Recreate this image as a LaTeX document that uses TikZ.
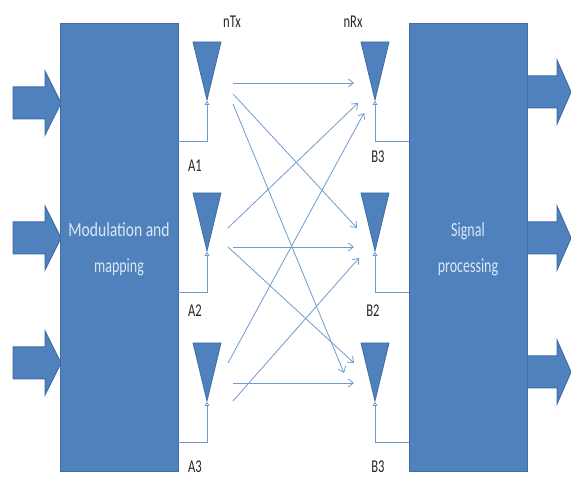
\documentclass[tikz,border=0pt]{standalone}
\usepackage{fontspec}
\setmainfont{Carlito}
\usetikzlibrary{arrows.meta}
\definecolor{fillb}{HTML}{4F81BD}
\definecolor{edgeb}{HTML}{3F6EA6}
\definecolor{linkb}{HTML}{6F9BD0}
\definecolor{txtb}{HTML}{DCE7F4}
\tikzset{
  x=1pt,y=-1pt,
  block/.style={draw=edgeb,fill=fillb,line width=1pt,minimum width=118pt,minimum height=447pt,inner sep=0pt},
  inner/.style={inner sep=0pt,text=txtb,font=\fontsize{20}{24}\selectfont},
  lab/.style={inner sep=0pt,font=\fontsize{18}{20}\selectfont,text=black!85},
  antenna/.style={draw=edgeb,fill=fillb,line width=.8pt,line join=miter},
  bigarrow/.style={draw=edgeb,fill=fillb,line width=1pt,line join=miter},
  feed/.style={draw=linkb,line width=.8pt,-{Triangle[open,length=4pt,width=5pt]}},
  link/.style={draw=linkb,line width=.8pt,-{Straight Barb[length=5pt,width=8pt]}}
}
\newcommand{\narrow}[1]{\scalebox{0.7}[1]{#1}}
\begin{document}
\begin{tikzpicture}
\useasboundingbox (0,0) rectangle (571,481);
\foreach \n/\yy in {i1/103,i2/238,i3/363}{
  \draw[bigarrow] (13,\yy-16) -- (45,\yy-16) -- (45,\yy-32) -- (61,\yy) -- (45,\yy+32) -- (45,\yy+16) -- (13,\yy+16) -- cycle;
}
\foreach \n/\yy in {o1/92,o2/238,o3/372}{
  \draw[bigarrow] (527,\yy-16) -- (557,\yy-16) -- (557,\yy-32) -- (571,\yy) -- (557,\yy+32) -- (557,\yy+16) -- (527,\yy+16) -- cycle;
}
\node[block] (mod) at (119,247.5) {};
\node[block] (sig) at (468,247.5) {};
\node[inner] (modt) at (119,230) {\scalebox{0.78}[1]{Modulation and}};
\node[inner] (mapt) at (119,267) {\narrow{mapping}};
\node[inner] (sigt) at (468,231) {\narrow{Signal}};
\node[inner] (prot) at (468,267) {\narrow{processing}};
\foreach \n/\xx/\yy in {ta/207/42,tb/207/193,tc/207/343,ra/375/42,rb/375/193,rc/375/343}{
  \draw[antenna] (\xx-14,\yy) -- (\xx+14,\yy) -- (\xx,\yy+58) -- cycle;
  \coordinate (\n) at (\xx,\yy+59);
}
\coordinate (ma) at (178,141);
\coordinate (mb) at (178,292);
\coordinate (mc) at (178,442);
\coordinate (sa) at (409,141);
\coordinate (sb) at (409,292);
\coordinate (sc) at (409,442);
\draw[feed] (ma) -| (ta);
\draw[feed] (mb) -| (tb);
\draw[feed] (mc) -| (tc);
\draw[feed] (sa) -| (ra);
\draw[feed] (sb) -| (rb);
\draw[feed] (sc) -| (rc);
\foreach \a/\b/\c/\d in {233/83/354/83,233/94/357/228,233/104/344/373,228/228/358/103,228/363/364/113,233/247/354/247,228/247/354/363,233/401/359/258,233/383/354/383}{
  \draw[link] (\a,\b) -- (\c,\d);
}
\node[lab] (nt) at (232,22) {\narrow{nTx}};
\node[lab] (nr) at (353,22) {\narrow{nRx}};
\node[lab] (a1) at (195,166) {\narrow{A1}};
\node[lab] (a2) at (195,311) {\narrow{A2}};
\node[lab] (a3) at (195,467) {\narrow{A3}};
\node[lab] (b1) at (378,157) {\narrow{B3}};
\node[lab] (b2) at (373,311) {\narrow{B2}};
\node[lab] (b3) at (378,467) {\narrow{B3}};
\end{tikzpicture}
\end{document}
